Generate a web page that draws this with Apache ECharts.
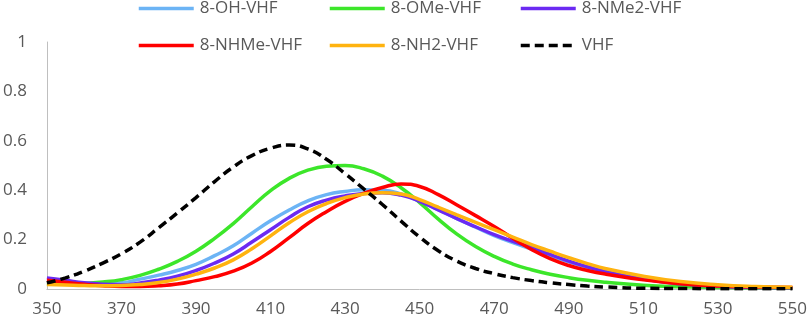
<!DOCTYPE html>
<html>
<head>
<meta charset="utf-8">
<script src="https://cdn.jsdelivr.net/npm/echarts@6/dist/echarts.min.js"></script>
<style>
html,body{margin:0;padding:0;background:#fff;}
#chart{width:810px;height:329px;}
</style>
</head>
<body>
<div id="chart"></div>
<script>
// Wavelength (nm)
const wavelengths = [350,355,360,365,370,375,380,385,390,395,400,405,410,415,420,425,430,435,440,445,450,455,460,465,470,475,480,485,490,495,500,510,520,530,540,550];

const seriesNames = ['8-OH-VHF','8-OMe-VHF','8-NMe2-VHF','8-NHMe-VHF','8-NH2-VHF','VHF'];

const ohVHF   = [.030,.025,.021,.021,.025,.040,.056,.075,.100,.135,.175,.226,.276,.320,.357,.382,.395,.402,.400,.385,.356,.321,.285,.250,.216,.188,.162,.135,.110,.088,.070,.040,.021,.012,.007,.005];
const omeVHF  = [.020,.020,.022,.028,.038,.055,.080,.112,.153,.205,.265,.333,.398,.448,.481,.497,.500,.487,.457,.410,.350,.283,.222,.172,.132,.101,.078,.060,.046,.035,.027,.015,.009,.006,.004,.003];
const nme2VHF = [.045,.035,.025,.019,.017,.024,.036,.052,.075,.105,.142,.190,.240,.290,.333,.360,.377,.387,.390,.380,.355,.320,.285,.252,.220,.193,.168,.140,.113,.090,.070,.040,.021,.011,.006,.005];
const nhmeVHF = [.035,.027,.019,.013,.010,.010,.013,.020,.034,.050,.072,.105,.152,.208,.265,.313,.355,.387,.411,.425,.415,.382,.340,.297,.253,.205,.160,.123,.095,.075,.060,.037,.021,.012,.008,.006];
const nh2VHF  = [.018,.016,.014,.013,.014,.018,.026,.040,.060,.085,.118,.163,.215,.268,.313,.346,.370,.385,.390,.385,.362,.331,.300,.270,.240,.210,.180,.153,.127,.103,.082,.052,.030,.017,.010,.007];
const vhf     = [.025,.045,.072,.105,.143,.190,.248,.308,.370,.435,.494,.540,.570,.583,.567,.525,.467,.405,.342,.275,.210,.155,.113,.083,.062,.046,.034,.025,.018,.012,.008,.003,.002,.001,.001,.001];

const xTicks = [350,370,390,410,430,450,470,490,510,530,550];
const yTicks = [0,0.2,0.4,0.6,0.8,1];

const values = [ohVHF, omeVHF, nme2VHF, nhmeVHF, nh2VHF, vhf];
const colors = ['#6CB4F5','#3CE62A','#6B2AF2','#FF0000','#FFB30F','#000000'];

const FONT = '"Open Sans", sans-serif';
const TXT = '#595959';

const legendPos = [
  {left:137, top:0},{left:328, top:0},{left:519, top:0},
  {left:137, top:37},{left:328, top:37},{left:519, top:37}
];

const chart = echarts.init(document.getElementById('chart'), null, {renderer:'canvas'});

const series = seriesNames.map((name, i) => ({
  name: name,
  type: 'line',
  data: wavelengths.map((w, j) => [w, values[i][j]]),
  smooth: 0.5,
  symbol: 'none',
  showSymbol: false,
  color: colors[i],
  itemStyle: {color: colors[i]},
  lineStyle: {
    width: 3.5,
    color: colors[i],
    type: name === 'VHF' ? [9, 5] : 'solid'
  },
  z: 2 + i
}));

const legends = seriesNames.map((name, i) => ({
  data: [name],
  left: legendPos[i].left,
  top: legendPos[i].top,
  padding: 0,
  itemWidth: 55,
  itemHeight: 14,
  itemGap: 0,
  itemStyle: {opacity: 0},
  lineStyle: {width: 3.5},
  textStyle: {fontFamily: FONT, fontSize: 17, color: TXT, padding: [0,0,0,1]}
}));

chart.setOption({
  animation: false,
  backgroundColor: '#ffffff',
  legend: legends,
  grid: {left: 45, right: 15, top: 42, bottom: 40, containLabel: false},
  xAxis: {
    type: 'value',
    min: xTicks[0],
    max: xTicks[xTicks.length - 1],
    interval: xTicks[1] - xTicks[0],
    axisLine: {show: true, lineStyle: {color: '#BFBFBF', width: 1}},
    axisTick: {show: false},
    splitLine: {show: false},
    axisLabel: {fontFamily: FONT, fontSize: 17, color: TXT, margin: 12, showMaxLabel: true, showMinLabel: true}
  },
  yAxis: {
    type: 'value',
    min: yTicks[0],
    max: yTicks[yTicks.length - 1],
    interval: yTicks[1] - yTicks[0],
    axisLine: {show: true, lineStyle: {color: '#BFBFBF', width: 1}},
    axisTick: {show: false},
    splitLine: {show: false},
    axisLabel: {fontFamily: FONT, fontSize: 17, color: TXT, margin: 20,
      formatter: v => String(Math.round(v * 10) / 10)}
  },
  series: series
});
</script>
</body>
</html>
